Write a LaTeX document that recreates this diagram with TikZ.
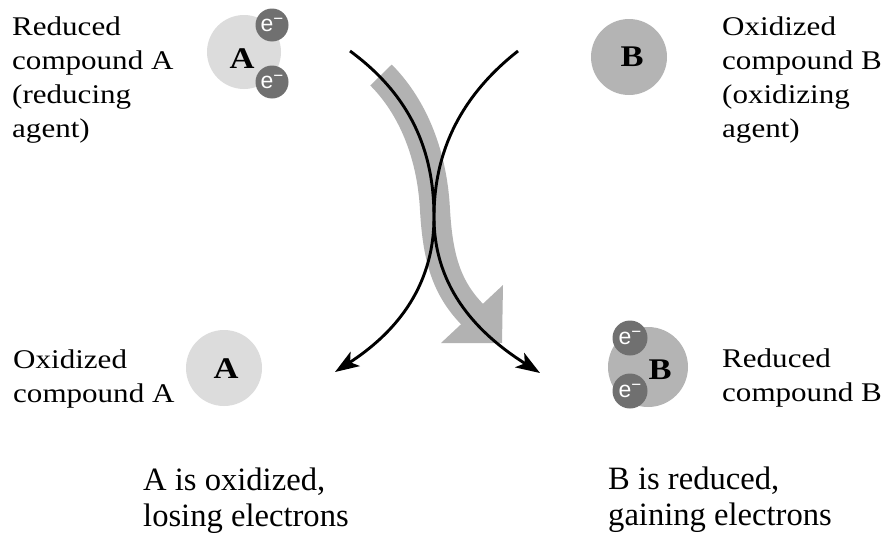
\documentclass[tikz,border=0pt]{standalone}
\usepackage{fontspec}
\setmainfont{Liberation Serif}
\newfontfamily\labelfont[FakeStretch=1.15]{Liberation Serif}
\newfontfamily\elfont{Liberation Sans}
\usetikzlibrary{arrows.meta}

\definecolor{lightA}{RGB}{220,220,220}
\definecolor{midB}{RGB}{180,180,180}
\definecolor{elec}{RGB}{112,112,112}
\definecolor{flowgray}{RGB}{178,178,178}

\begin{document}
\begin{tikzpicture}[x=1pt,y=-1pt,
  lab/.style={anchor=base west, align=left, inner sep=0pt,
    font=\labelfont\fontsize{27}{34}\selectfont},
  labtwo/.style={anchor=base west, align=left, inner sep=0pt,
    font=\labelfont\fontsize{27}{33.5}\selectfont},
  captext/.style={anchor=base west, align=left, inner sep=0pt,
    font=\fontsize{32.6}{36}\selectfont},
  molA/.style={circle, fill=lightA, minimum size=74pt, inner sep=0pt},
  molB/.style={circle, fill=midB, minimum size=76pt, inner sep=0pt},
  letter/.style={inner sep=0pt, font=\labelfont\bfseries\fontsize{30}{30}\selectfont},
  electron/.style={circle, fill=elec, minimum size=33pt, inner sep=0pt,
    text=white, font=\elfont\fontsize{23}{23}\selectfont},
  transfer/.style={line width=2.9pt, -{Stealth[length=24pt,width=17pt,inset=6pt]}},
  flowband/.style={draw=flowgray, line width=30pt},
]
\useasboundingbox (0,0) rectangle (886,533);

% broad grey arrow showing the electron flow
\draw[flowband] (381,75) .. controls (410,104) and (432,150) .. (435,210)
  .. controls (438,262) and (448,292) .. (478,320);
\fill[flowgray] (441,343) -- (503,285) -- (502,343) -- cycle;

% molecules, top row
\node[molA] (Ared) at (244,52) {};
\node[letter] (AredL) at (242,59) {A};
\node[electron] (eA1) at (272,25) {e\raisebox{7pt}{\fontsize{17}{17}\selectfont −}};
\node[electron] (eA2) at (272,82) {e\raisebox{7pt}{\fontsize{17}{17}\selectfont −}};

\node[molB] (Box) at (629,57) {};
\node[letter] (BoxL) at (632,57) {B};

% molecules, bottom row
\node[molA, minimum size=76pt] (Aox) at (224,368) {};
\node[letter] (AoxL) at (226,369) {A};

\node[molB, minimum size=80pt] (Bred) at (648,367) {};
\node[letter] (BredL) at (660,370) {B};
\node[electron, minimum size=35pt] (eB1) at (630,338) {e\raisebox{7pt}{\fontsize{17}{17}\selectfont −}};
\node[electron, minimum size=35pt] (eB2) at (630,391) {e\raisebox{7pt}{\fontsize{17}{17}\selectfont −}};

% crossing reaction arrows
\coordinate (s1) at (350,51);
\coordinate (s2) at (518,51);
\coordinate (cross) at (434,217);
\coordinate (e1) at (540,373);
\coordinate (e2) at (335,372);
\draw[transfer] (s1) .. controls (410,95) and (434,150) .. (cross)
  .. controls (434,290) and (480,335) .. (e1);
\draw[transfer] (s2) .. controls (462,95) and (434,150) .. (cross)
  .. controls (434,290) and (392,335) .. (e2);

% labels (anchored at the baseline of their last line)
\node[lab] (tA) at (12,137) {Reduced\\compound A\\(reducing\\agent)};
\node[lab] (tB) at (722,137) {Oxidized\\compound B\\(oxidizing\\agent)};
\node[labtwo] (bA) at (13,402) {Oxidized\\compound A};
\node[labtwo] (bB) at (722,401) {Reduced\\compound B};
\node[captext] (capA) at (143,526) {A is oxidized,\\losing electrons};
\node[captext] (capB) at (608,525) {B is reduced,\\gaining electrons};
\end{tikzpicture}
\end{document}
